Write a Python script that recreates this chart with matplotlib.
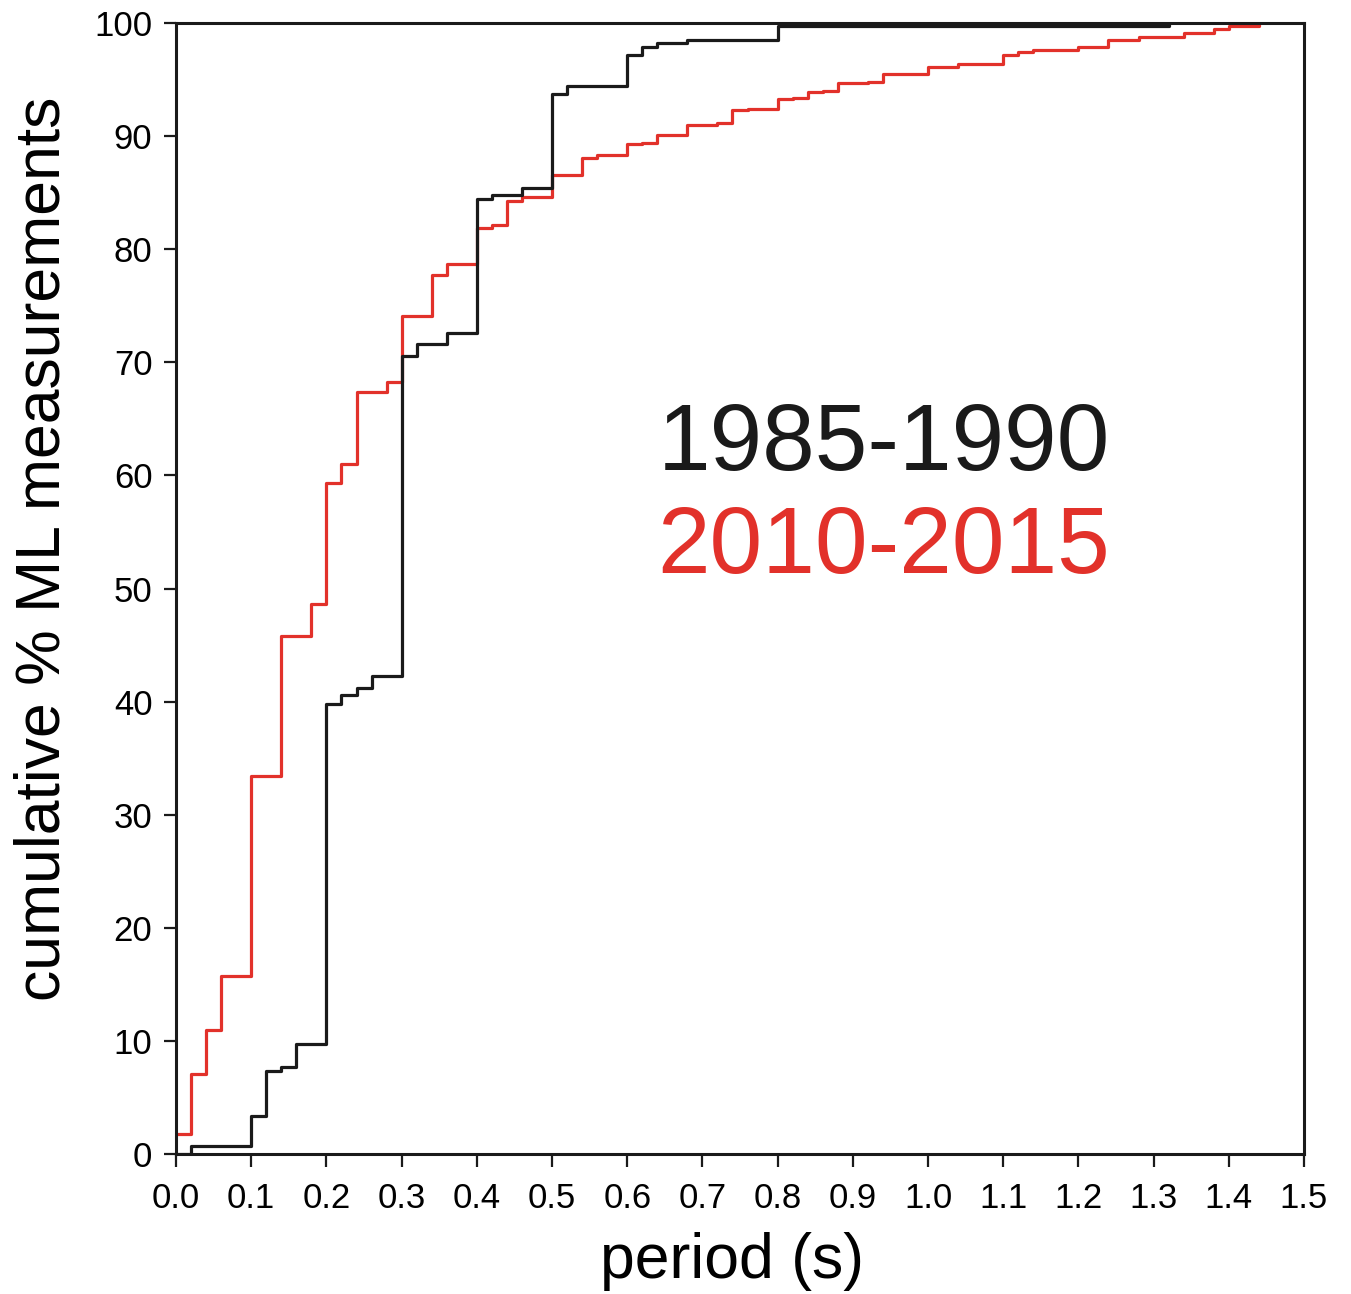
import matplotlib
matplotlib.use("Agg")
import matplotlib.pyplot as plt

# cumulative distributions of ML measurement periods (step positions in s, values in %)
period_8590 = [0.0, 0.02, 0.10, 0.12, 0.14, 0.16, 0.20, 0.22, 0.24, 0.26, 0.30, 0.32,
               0.36, 0.40, 0.42, 0.46, 0.50, 0.52, 0.60, 0.62, 0.64, 0.68, 0.80, 1.32]
cum_8590 = [0.0, 0.7, 3.4, 7.3, 7.7, 9.7, 39.8, 40.6, 41.2, 42.3, 70.6, 71.6,
            72.6, 84.4, 84.8, 85.4, 93.7, 94.4, 97.2, 97.9, 98.2, 98.5, 99.7, 100.0]

period_1015 = [0.0, 0.02, 0.04, 0.06, 0.10, 0.14, 0.18, 0.20, 0.22, 0.24, 0.28, 0.30,
               0.34, 0.36, 0.40, 0.42, 0.44, 0.46, 0.50, 0.54, 0.56, 0.60, 0.62, 0.64,
               0.68, 0.72, 0.74, 0.76, 0.80, 0.82, 0.84, 0.86, 0.88, 0.92, 0.94, 1.00,
               1.04, 1.10, 1.12, 1.14, 1.20, 1.24, 1.28, 1.34, 1.38, 1.40, 1.44]
cum_1015 = [1.8, 7.1, 11.0, 15.7, 33.4, 45.8, 48.6, 59.3, 61.0, 67.4, 68.3, 74.1,
            77.7, 78.7, 81.9, 82.1, 84.3, 84.6, 86.6, 88.1, 88.3, 89.3, 89.4, 90.1,
            91.0, 91.2, 92.3, 92.4, 93.3, 93.4, 93.9, 94.0, 94.7, 94.8, 95.5, 96.1,
            96.4, 97.2, 97.4, 97.6, 97.9, 98.5, 98.8, 99.1, 99.5, 99.7, 100.0]

labels = ["1985-1990", "2010-2015"]
RED = "#e2312a"
BLACK = "#1a1a1a"

plt.rcParams["font.family"] = ["Liberation Sans", "DejaVu Sans"]

fig = plt.figure(figsize=(13.51, 12.94), dpi=100)
ax = fig.add_axes([0.1303, 0.1082, 0.8349, 0.874])

ax.step(period_1015, cum_1015, where="post", color=RED, linewidth=2.3, zorder=2)
ax.step(period_8590, cum_8590, where="post", color=BLACK, linewidth=2.3, zorder=3)

ax.set_xlim(0, 1.5)
ax.set_ylim(0, 100)
ax.set_xticks([i / 10 for i in range(16)])
ax.set_xticklabels([f"{i / 10:.1f}" for i in range(16)])
ax.set_yticks(range(0, 101, 10))

for s in ax.spines.values():
    s.set_linewidth(2.2)
    s.set_color(BLACK)
ax.tick_params(axis="both", direction="out", length=9, width=1.6,
               labelsize=25, color=BLACK)
ax.tick_params(axis="x", pad=11)
ax.tick_params(axis="y", pad=8)

ax.set_xlabel("period (s)", fontsize=45)
ax.set_ylabel("cumulative % ML measurements", fontsize=45)
ax.xaxis.set_label_coords(0.493, -0.069)
ax.yaxis.set_label_coords(-0.092, 0.535)

ax.text(0.828, 0.605, labels[0], transform=ax.transAxes, fontsize=68,
        color=BLACK, ha="right", va="baseline")
ax.text(0.828, 0.514, labels[1], transform=ax.transAxes, fontsize=68,
        color=RED, ha="right", va="baseline")

fig.savefig("out.png", dpi=100)
